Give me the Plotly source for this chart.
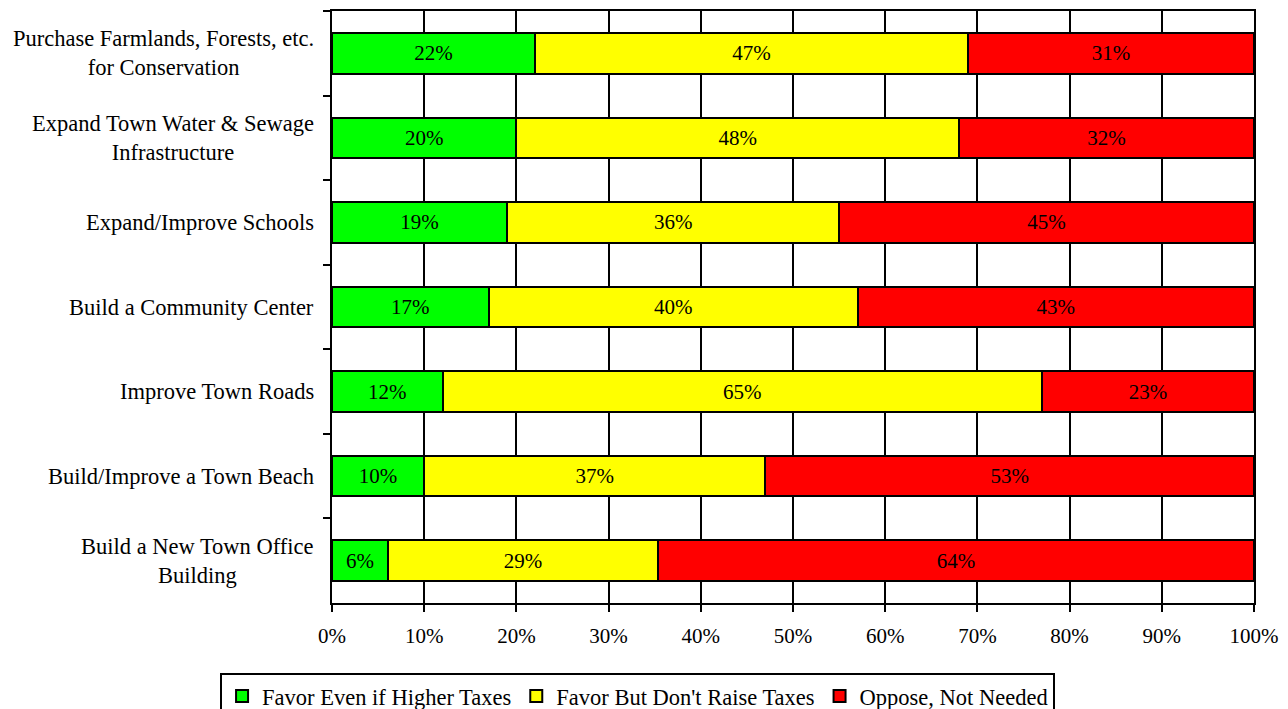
import plotly.graph_objects as go

# Survey items (top to bottom) and response shares in percent
categories = [
    "Purchase Farmlands, Forests, etc.<br>for Conservation",
    "Expand Town Water & Sewage<br>Infrastructure",
    "Expand/Improve Schools",
    "Build a Community Center",
    "Improve Town Roads",
    "Build/Improve a Town Beach",
    "Build a New Town Office<br>Building",
]
favor_higher_taxes = [22, 20, 19, 17, 12, 10, 6]
favor_no_raise = [47, 48, 36, 40, 65, 37, 29]
oppose_not_needed = [31, 32, 45, 43, 23, 53, 64]

series = [
    ("Favor Even if Higher Taxes", favor_higher_taxes, "#00FF00"),
    ("Favor But Don't Raise Taxes", favor_no_raise, "#FFFF00"),
    ("Oppose, Not Needed", oppose_not_needed, "#FF0000"),
]

FONT = "Liberation Serif, Times New Roman, serif"

fig = go.Figure()
for name, vals, color in series:
    fig.add_trace(go.Bar(
        name=name,
        y=categories,
        x=vals,
        orientation="h",
        marker=dict(color=color, line=dict(color="black", width=2)),
        text=[f"{v}%" for v in vals],
        textposition="inside",
        insidetextanchor="middle",
        textangle=0,
        constraintext="none",
        textfont=dict(family=FONT, size=21, color="black"),
        hoverinfo="skip",
    ))

# Category labels, centred line by line, to the left of the axis
for cat in categories:
    fig.add_annotation(
        x=0, xref="paper", xanchor="right", xshift=-16,
        y=cat, yref="y", yanchor="middle",
        text=cat, showarrow=False, align="center",
        font=dict(family=FONT, size=22.5, color="black"),
    )

fig.update_layout(
    width=1288, height=709,
    barmode="stack", barnorm="percent", bargap=0.52,
    paper_bgcolor="white", plot_bgcolor="white",
    margin=dict(l=332, r=30, t=9, b=106),
    font=dict(family=FONT, size=21, color="black"),
    showlegend=True,
    legend=dict(
        orientation="h",
        xref="container", x=0.495, xanchor="center",
        yref="container", y=0.051, yanchor="top",
        bordercolor="black", borderwidth=2,
        font=dict(family=FONT, size=22.5, color="black"),
        itemwidth=30, traceorder="normal",
    ),
)

fig.update_xaxes(
    range=[0, 100], dtick=10, ticksuffix="%",
    showgrid=True, gridcolor="black", gridwidth=2,
    showline=True, linecolor="black", linewidth=2, mirror=True,
    ticks="outside", ticklen=7, tickwidth=2, tickcolor="black",
    ticklabelstandoff=6,
    zeroline=False,
    tickfont=dict(family=FONT, size=21, color="black"),
)
fig.update_yaxes(
    autorange="reversed",
    showticklabels=False,
    showgrid=False,
    showline=True, linecolor="black", linewidth=2, mirror=True,
    ticks="outside", tickson="boundaries", ticklen=7, tickwidth=2, tickcolor="black",
)

fig.write_html("out.html")
